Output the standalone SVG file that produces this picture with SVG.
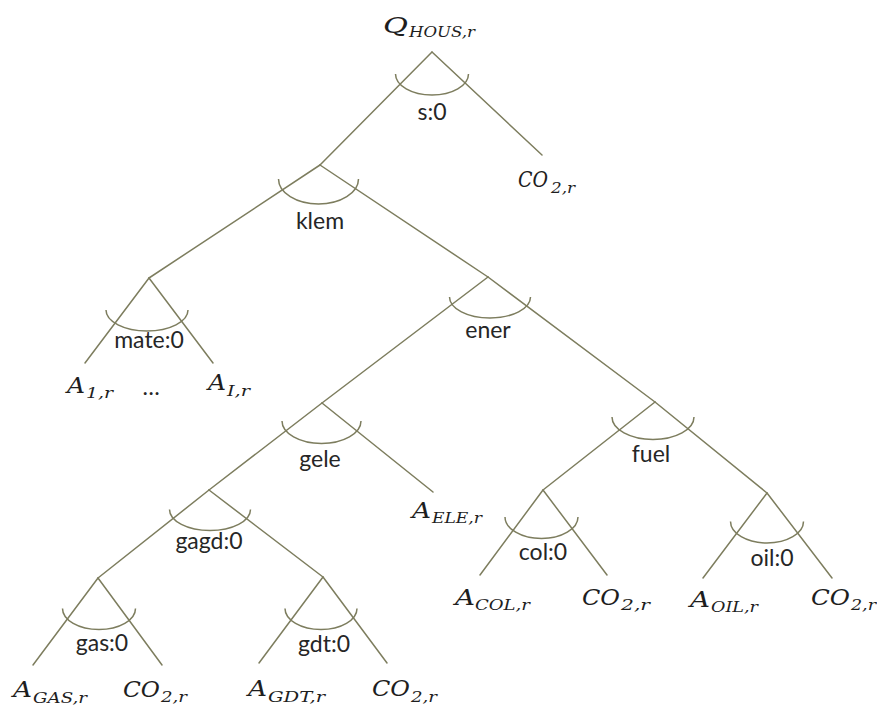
<svg xmlns="http://www.w3.org/2000/svg" width="877" height="706" viewBox="0 0 877 706">
  <style>
    .edge { stroke: #7d7d5e; stroke-width: 1.5; fill: none; stroke-linecap: round; }
    .arc { stroke: #7d7d5e; stroke-width: 1.5; fill: none; }
    .lbl { font-family: Lato, "Open Sans", "Liberation Sans", sans-serif; font-size: 23px; fill: #262626; text-anchor: middle; }
    .m { font-family: "DejaVu Serif", "Liberation Serif", serif; font-style: italic; font-size: 22px; fill: #1e1e1e; }
    .sub { font-family: "DejaVu Serif", "Liberation Serif", serif; font-style: italic; font-size: 15px; fill: #1e1e1e; }
  </style>
  <rect width="877" height="706" fill="#ffffff"/>

  <!-- branches of the nesting tree -->
  <g id="connectors">
    <line class="edge" x1="432" y1="52" x2="320" y2="165"/>
    <line class="edge" x1="432" y1="52" x2="542" y2="155"/>
    <line class="edge" x1="320" y1="165" x2="149" y2="278"/>
    <line class="edge" x1="320" y1="165" x2="488" y2="277"/>
    <line class="edge" x1="149" y1="278" x2="85" y2="363"/>
    <line class="edge" x1="149" y1="278" x2="213" y2="363"/>
    <line class="edge" x1="488" y1="277" x2="322" y2="403"/>
    <line class="edge" x1="488" y1="277" x2="655" y2="402"/>
    <line class="edge" x1="322" y1="403" x2="209" y2="490"/>
    <line class="edge" x1="322" y1="403" x2="433" y2="492"/>
    <line class="edge" x1="655" y1="402" x2="543" y2="490"/>
    <line class="edge" x1="655" y1="402" x2="767" y2="493"/>
    <line class="edge" x1="209" y1="490" x2="98" y2="578"/>
    <line class="edge" x1="209" y1="490" x2="323" y2="577"/>
    <line class="edge" x1="98" y1="578" x2="33" y2="665"/>
    <line class="edge" x1="98" y1="578" x2="162" y2="665"/>
    <line class="edge" x1="323" y1="577" x2="259" y2="663"/>
    <line class="edge" x1="323" y1="577" x2="387" y2="663"/>
    <line class="edge" x1="543" y1="490" x2="480" y2="575"/>
    <line class="edge" x1="543" y1="490" x2="607" y2="575"/>
    <line class="edge" x1="767" y1="493" x2="703" y2="578"/>
    <line class="edge" x1="767" y1="493" x2="832" y2="578"/>
  </g>

  <!-- root output -->
  <g id="q-hous">
    <text class="m" x="383" y="33" font-size="25" textLength="25" lengthAdjust="spacingAndGlyphs">Q</text>
    <text class="sub" x="409" y="37" textLength="66" lengthAdjust="spacingAndGlyphs">HOUS,r</text>
  </g>

  <!-- nests: elasticity arc + label -->
  <g id="nest-s">
    <path class="arc" d="M395.5 74 A36.5 21 0 0 0 468.5 74"/>
    <text class="lbl" x="432" y="120">s:0</text>
  </g>
  <g id="nest-klem">
    <path class="arc" d="M278.5 179 A40 25 0 0 0 358.5 179"/>
    <text class="lbl" x="320" y="229">klem</text>
  </g>
  <g id="nest-mate">
    <path class="arc" d="M106 310 A41 21 0 0 0 188 310"/>
    <text class="lbl" x="149" y="348">mate:0</text>
  </g>
  <g id="nest-ener">
    <path class="arc" d="M449.5 297 A40.5 21 0 0 0 530.5 297"/>
    <text class="lbl" x="488" y="338">ener</text>
  </g>
  <g id="nest-fuel">
    <path class="arc" d="M612 417 A41 22.5 0 0 0 694 417"/>
    <text class="lbl" x="651" y="462">fuel</text>
  </g>
  <g id="nest-gele">
    <path class="arc" d="M282 421 A39.5 22.5 0 0 0 361 421"/>
    <text class="lbl" x="320" y="467">gele</text>
  </g>
  <g id="nest-gagd">
    <path class="arc" d="M169.5 509.5 A40.5 21 0 0 0 250.5 509.5"/>
    <text class="lbl" x="209" y="549">gagd:0</text>
  </g>
  <g id="nest-gas">
    <path class="arc" d="M62.5 608.5 A36.5 21 0 0 0 135.5 608.5"/>
    <text class="lbl" x="102" y="651">gas:0</text>
  </g>
  <g id="nest-gdt">
    <path class="arc" d="M285 608.5 A36 21 0 0 0 357 608.5"/>
    <text class="lbl" x="324" y="652">gdt:0</text>
  </g>
  <g id="nest-col">
    <path class="arc" d="M505 517 A36.5 21.5 0 0 0 578 517"/>
    <text class="lbl" x="543" y="560">col:0</text>
  </g>
  <g id="nest-oil">
    <path class="arc" d="M730.5 521.5 A36.5 21.5 0 0 0 803.5 521.5"/>
    <text class="lbl" x="772" y="566">oil:0</text>
  </g>

  <!-- leaves -->
  <g id="co2-top">
    <text class="m" x="518" y="187" textLength="30" lengthAdjust="spacingAndGlyphs">CO</text>
    <text class="sub" x="551" y="193" textLength="24" lengthAdjust="spacingAndGlyphs">2,r</text>
  </g>
  <g id="a-1">
    <text class="m" x="67" y="393" textLength="18" lengthAdjust="spacingAndGlyphs">A</text>
    <text class="sub" x="86" y="398" textLength="27" lengthAdjust="spacingAndGlyphs">1,r</text>
  </g>
  <g id="ellipsis">
    <text class="lbl" x="151" y="395">…</text>
  </g>
  <g id="a-i">
    <text class="m" x="208" y="390" textLength="18" lengthAdjust="spacingAndGlyphs">A</text>
    <text class="sub" x="227" y="396" textLength="23" lengthAdjust="spacingAndGlyphs">I,r</text>
  </g>
  <g id="a-ele">
    <text class="m" x="412" y="518" textLength="19" lengthAdjust="spacingAndGlyphs">A</text>
    <text class="sub" x="432" y="523" textLength="50" lengthAdjust="spacingAndGlyphs">ELE,r</text>
  </g>
  <g id="a-gas">
    <text class="m" x="13" y="697" textLength="19" lengthAdjust="spacingAndGlyphs">A</text>
    <text class="sub" x="33" y="703" textLength="54" lengthAdjust="spacingAndGlyphs">GAS,r</text>
  </g>
  <g id="co2-gas">
    <text class="m" x="123" y="697" textLength="37" lengthAdjust="spacingAndGlyphs">CO</text>
    <text class="sub" x="161" y="702" textLength="26" lengthAdjust="spacingAndGlyphs">2,r</text>
  </g>
  <g id="a-gdt">
    <text class="m" x="248" y="696" textLength="19" lengthAdjust="spacingAndGlyphs">A</text>
    <text class="sub" x="268" y="702" textLength="57" lengthAdjust="spacingAndGlyphs">GDT,r</text>
  </g>
  <g id="co2-gdt">
    <text class="m" x="372" y="696" textLength="38" lengthAdjust="spacingAndGlyphs">CO</text>
    <text class="sub" x="411" y="702" textLength="26" lengthAdjust="spacingAndGlyphs">2,r</text>
  </g>
  <g id="a-col">
    <text class="m" x="455" y="605" textLength="20" lengthAdjust="spacingAndGlyphs">A</text>
    <text class="sub" x="475" y="610" textLength="55" lengthAdjust="spacingAndGlyphs">COL,r</text>
  </g>
  <g id="co2-col">
    <text class="m" x="582" y="605" textLength="38" lengthAdjust="spacingAndGlyphs">CO</text>
    <text class="sub" x="621" y="610" textLength="29" lengthAdjust="spacingAndGlyphs">2,r</text>
  </g>
  <g id="a-oil">
    <text class="m" x="690" y="607" textLength="20" lengthAdjust="spacingAndGlyphs">A</text>
    <text class="sub" x="711" y="612" textLength="47" lengthAdjust="spacingAndGlyphs">OIL,r</text>
  </g>
  <g id="co2-oil">
    <text class="m" x="811" y="605" textLength="39" lengthAdjust="spacingAndGlyphs">CO</text>
    <text class="sub" x="851" y="610" textLength="25" lengthAdjust="spacingAndGlyphs">2,r</text>
  </g>
</svg>
